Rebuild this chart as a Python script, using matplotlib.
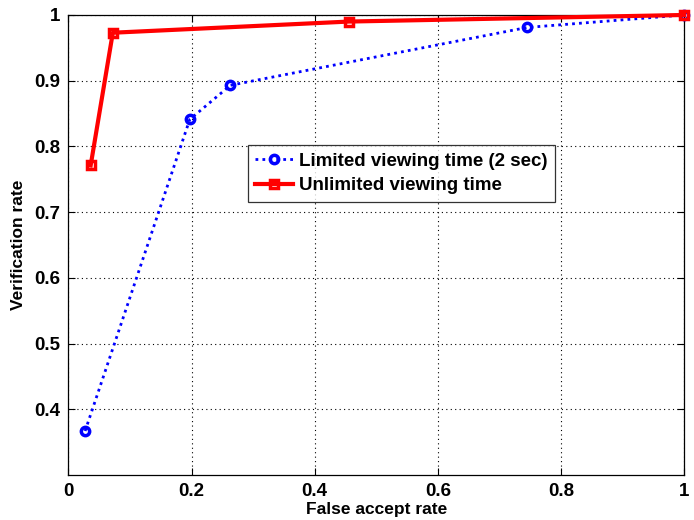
import matplotlib
matplotlib.use('Agg')
import matplotlib.pyplot as plt

# false accept rate / verification rate
far_limited = [0.027, 0.197, 0.263, 0.745, 1.0]
vr_limited = [0.367, 0.841, 0.893, 0.981, 1.0]
far_unlimited = [0.036, 0.072, 0.456, 1.0]
vr_unlimited = [0.771, 0.973, 0.990, 1.0]

x_ticks = [0, 0.2, 0.4, 0.6, 0.8, 1]
x_tick_labels = ['0', '0.2', '0.4', '0.6', '0.8', '1']
y_ticks = [0.4, 0.5, 0.6, 0.7, 0.8, 0.9, 1]
y_tick_labels = ['0.4', '0.5', '0.6', '0.7', '0.8', '0.9', '1']

plt.rcParams['font.family'] = ['Liberation Sans', 'DejaVu Sans']
plt.rcParams['font.weight'] = 'bold'

fig = plt.figure(figsize=(6.94, 5.2), dpi=100)
ax = fig.add_axes([0.0987, 0.0865, 0.8869, 0.8847])

ax.plot(far_limited, vr_limited, color='blue', linestyle=(0, (1, 1.5)), linewidth=2,
        marker='o', markersize=6, markerfacecolor='none', markeredgewidth=2.5,
        label='Limited viewing time (2 sec)', clip_on=False, zorder=3)
ax.plot(far_unlimited, vr_unlimited, color='red', linestyle='-', linewidth=3,
        marker='s', markersize=6, markerfacecolor='none', markeredgewidth=2.5,
        label='Unlimited viewing time', clip_on=False, zorder=4)

ax.set_xlim(0, 1)
ax.set_ylim(0.3, 1)
ax.set_xticks(x_ticks)
ax.set_xticklabels(x_tick_labels)
ax.set_yticks(y_ticks)
ax.set_yticklabels(y_tick_labels)
ax.tick_params(direction='in', top=True, right=True, length=5, width=0.8,
               labelsize=13.5, pad=6)
for lab in ax.get_xticklabels() + ax.get_yticklabels():
    lab.set_fontweight('bold')

ax.grid(True, color='black', linestyle=(0, (1, 3)), linewidth=0.8)
for s in ax.spines.values():
    s.set_linewidth(0.9)

ax.set_xlabel('False accept rate', fontsize=12.5, fontweight='bold', labelpad=1)
ax.set_ylabel('Verification rate', fontsize=12.5, fontweight='bold', labelpad=6)

leg = ax.legend(loc='upper left', bbox_to_anchor=(0.2916, 0.717),
                fontsize=13.5, frameon=True, fancybox=False, borderaxespad=0,
                handlelength=2.0, handletextpad=0.3, borderpad=0.4,
                labelspacing=0.4)
leg.get_frame().set_edgecolor('black')
leg.get_frame().set_linewidth(0.9)
for t in leg.get_texts():
    t.set_fontweight('bold')

fig.savefig('out.png', dpi=100)
